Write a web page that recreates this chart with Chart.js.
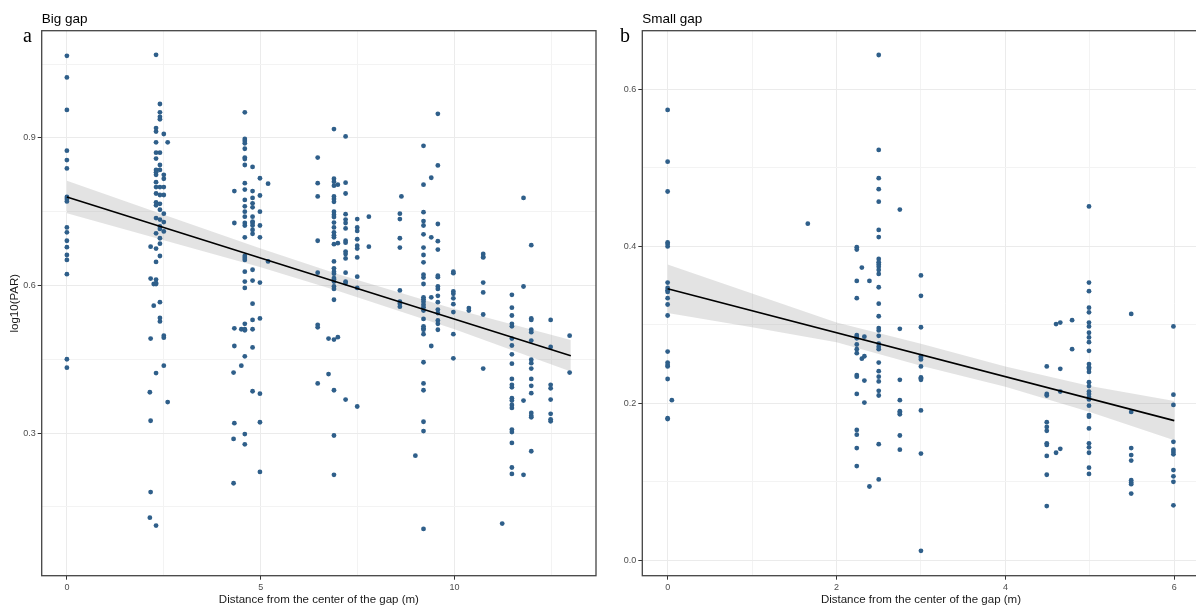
<!DOCTYPE html>
<html>
<head>
<meta charset="utf-8">
<script src="https://cdn.jsdelivr.net/npm/chart.js@4.4.1/dist/chart.umd.min.js"></script>
<style>
  html, body { margin: 0; padding: 0; background: #fff; overflow: hidden; }
  #wrap { position: relative; width: 1196px; height: 608px; overflow: hidden; }
  canvas { position: absolute; top: 0; }
  #bigGap { left: 0; }
  #smallGap { left: 600px; }
</style>
</head>
<body>
<div id="wrap">
  <canvas id="bigGap" width="600" height="608"></canvas>
  <canvas id="smallGap" width="605" height="608"></canvas>
</div>
<script>
// ---- panel a: big gap ----
// distance from the gap centre (m), and the log10(PAR) readings at each distance
const bigGapDist = [0, 2.14, 2.16, 2.24, 2.3, 2.4, 2.5, 2.6, 4.3, 4.32, 4.5, 4.59, 4.79, 4.98, 5.19,
  6.47, 6.75, 6.89, 6.99, 7.19, 7.49, 7.79, 8.59, 8.63, 8.99, 9.2, 9.4, 9.57, 9.97, 10.37, 10.74,
  11.23, 11.48, 11.78, 11.98, 12.48, 12.97];
const bigGapPar = [
  [1.067, 1.023, 0.957, 0.874, 0.855, 0.838, 0.780, 0.776, 0.771, 0.718, 0.708, 0.691, 0.678, 0.662, 0.652, 0.623, 0.450, 0.433],
  [0.383, 0.128],
  [0.679, 0.614, 0.492, 0.325, 0.180],
  [0.603, 0.559],
  [1.069, 0.920, 0.913, 0.891, 0.870, 0.858, 0.835, 0.830, 0.825, 0.810, 0.800, 0.787, 0.769, 0.763, 0.737, 0.706, 0.675, 0.648, 0.612, 0.605, 0.603, 0.422, 0.112],
  [0.969, 0.952, 0.943, 0.938, 0.870, 0.845, 0.835, 0.800, 0.784, 0.766, 0.754, 0.734, 0.720, 0.715, 0.696, 0.685, 0.660, 0.566, 0.534, 0.527],
  [0.908, 0.825, 0.817, 0.800, 0.784, 0.746, 0.729, 0.710, 0.498, 0.494, 0.437],
  [0.891, 0.363],
  [0.423, 0.288, 0.198],
  [0.792, 0.727, 0.513, 0.477, 0.320],
  [0.511, 0.437],
  [0.952, 0.898, 0.894, 0.889, 0.878, 0.860, 0.857, 0.845, 0.808, 0.795, 0.774, 0.761, 0.750, 0.740, 0.727, 0.722, 0.698, 0.660, 0.656, 0.652, 0.628, 0.608, 0.595, 0.522, 0.511, 0.509, 0.456, 0.298, 0.277],
  [0.841, 0.792, 0.778, 0.767, 0.759, 0.740, 0.730, 0.727, 0.722, 0.713, 0.705, 0.632, 0.610, 0.563, 0.530, 0.511, 0.474, 0.385],
  [0.818, 0.783, 0.750, 0.722, 0.698, 0.606, 0.533, 0.380, 0.322, 0.221],
  [0.807, 0.649],
  [0.860, 0.808, 0.781, 0.691, 0.626, 0.520, 0.515, 0.401],
  [0.492, 0.420],
  [0.918, 0.817, 0.811, 0.803, 0.781, 0.776, 0.770, 0.750, 0.744, 0.739, 0.728, 0.718, 0.708, 0.702, 0.698, 0.684, 0.649, 0.635, 0.628, 0.624, 0.615, 0.612, 0.608, 0.598, 0.593, 0.571, 0.490, 0.387, 0.295, 0.215],
  [0.805, 0.686, 0.495],
  [0.903, 0.809, 0.787, 0.745, 0.734, 0.727, 0.716, 0.691, 0.687, 0.669, 0.664, 0.655, 0.626, 0.608, 0.605, 0.368],
  [0.735, 0.718, 0.711, 0.694, 0.681, 0.675, 0.657, 0.618, 0.595, 0.354],
  [0.740, 0.679],
  [0.746, 0.735, 0.696, 0.677, 0.590, 0.567, 0.563, 0.557],
  [0.781],
  [0.254],
  [0.884, 0.805, 0.749, 0.731, 0.722, 0.704, 0.677, 0.662, 0.647, 0.622, 0.616, 0.603, 0.576, 0.572, 0.567, 0.561, 0.556, 0.549, 0.532, 0.517, 0.513, 0.510, 0.501, 0.444, 0.401, 0.387, 0.323, 0.304, 0.105],
  [0.819, 0.698, 0.576, 0.477],
  [0.949, 0.844, 0.725, 0.690, 0.673, 0.620, 0.617, 0.598, 0.593, 0.579, 0.566, 0.551, 0.544, 0.529, 0.522, 0.510],
  [0.628, 0.625, 0.588, 0.583, 0.574, 0.562, 0.546, 0.501, 0.452],
  [0.554, 0.549],
  [0.664, 0.658, 0.657, 0.606, 0.586, 0.541, 0.431],
  [0.116],
  [0.581, 0.555, 0.539, 0.522, 0.517, 0.492, 0.478, 0.460, 0.441, 0.410, 0.398, 0.393, 0.371, 0.366, 0.357, 0.351, 0.307, 0.302, 0.280, 0.230, 0.217],
  [0.778, 0.598, 0.366, 0.215],
  [0.682, 0.533, 0.530, 0.510, 0.505, 0.488, 0.449, 0.442, 0.431, 0.410, 0.396, 0.381, 0.341, 0.335, 0.332, 0.263],
  [0.530, 0.475, 0.398, 0.391, 0.368, 0.339, 0.328, 0.324],
  [0.498, 0.423]
];
// fitted line and its confidence band
const bigFitDist = [0, 13];
const bigFitPar = [0.780, 0.457];
const bigBandDist = [0, 2.5, 5, 7, 10, 13];
const bigBandLow = [0.747, 0.692, 0.637, 0.589, 0.511, 0.425];
const bigBandHigh = [0.813, 0.744, 0.675, 0.623, 0.552, 0.489];
const bigXTicks = [0, 5, 10];
const bigXLabels = ["0", "5", "10"];
const bigYTicks = [0.3, 0.6, 0.9];
const bigYLabels = ["0.3", "0.6", "0.9"];

// ---- panel b: small gap ----
const smallGapDist = [0, 0.05, 1.66, 2.24, 2.3, 2.33, 2.39, 2.5, 2.75, 3, 4.49, 4.6, 4.65, 4.79, 4.99, 5.49, 5.99];
const smallGapPar = [
  [0.574, 0.508, 0.470, 0.405, 0.403, 0.400, 0.354, 0.347, 0.344, 0.342, 0.334, 0.326, 0.312, 0.266, 0.252, 0.249, 0.247, 0.231, 0.181, 0.180],
  [0.204],
  [0.429],
  [0.399, 0.396, 0.356, 0.334, 0.287, 0.285, 0.283, 0.275, 0.269, 0.264, 0.236, 0.234, 0.212, 0.166, 0.160, 0.143, 0.120],
  [0.373, 0.257],
  [0.285, 0.260, 0.229, 0.201],
  [0.356, 0.094],
  [0.644, 0.523, 0.487, 0.473, 0.457, 0.421, 0.412, 0.384, 0.380, 0.377, 0.374, 0.370, 0.365, 0.348, 0.327, 0.311, 0.296, 0.293, 0.286, 0.276, 0.272, 0.269, 0.252, 0.241, 0.234, 0.228, 0.216, 0.210, 0.148, 0.103],
  [0.447, 0.295, 0.230, 0.204, 0.190, 0.188, 0.186, 0.159, 0.141],
  [0.363, 0.337, 0.297, 0.260, 0.258, 0.256, 0.247, 0.233, 0.232, 0.230, 0.191, 0.136, 0.012],
  [0.247, 0.212, 0.210, 0.176, 0.170, 0.165, 0.149, 0.147, 0.133, 0.109, 0.069],
  [0.301, 0.137],
  [0.303, 0.244, 0.215, 0.142],
  [0.306, 0.269],
  [0.451, 0.354, 0.343, 0.322, 0.316, 0.303, 0.298, 0.290, 0.284, 0.278, 0.267, 0.250, 0.246, 0.244, 0.240, 0.227, 0.222, 0.215, 0.212, 0.208, 0.205, 0.197, 0.185, 0.183, 0.168, 0.149, 0.144, 0.137, 0.118, 0.110],
  [0.314, 0.189, 0.143, 0.134, 0.127, 0.102, 0.099, 0.097, 0.085],
  [0.298, 0.211, 0.198, 0.151, 0.141, 0.138, 0.135, 0.115, 0.107, 0.100, 0.070]
];
const smallFitDist = [0, 6];
const smallFitPar = [0.346, 0.178];
const smallBandDist = [0, 1, 2, 3, 4, 5, 6];
const smallBandLow = [0.315, 0.297, 0.278, 0.248, 0.221, 0.189, 0.153];
const smallBandHigh = [0.377, 0.340, 0.303, 0.276, 0.247, 0.222, 0.203];
const smallXTicks = [0, 2, 4, 6];
const smallXLabels = ["0", "2", "4", "6"];
const smallYTicks = [0.0, 0.2, 0.4, 0.6];
const smallYLabels = ["0.0", "0.2", "0.4", "0.6"];

const FONT = '"Liberation Sans", Arial, sans-serif';

// frame, panel title and panel letter (ggplot theme_bw look)
const panelFrame = {
  id: "panelFrame",
  afterDraw(chart, args, opts) {
    const { ctx, chartArea: a } = chart;
    ctx.save();
    ctx.strokeStyle = "#444";
    ctx.lineWidth = 1.3;
    ctx.strokeRect(a.left, a.top, a.right - a.left, a.bottom - a.top);
    ctx.fillStyle = "#000";
    ctx.textBaseline = "alphabetic";
    ctx.textAlign = "left";
    ctx.font = "13.5px " + FONT;
    ctx.fillText(opts.title, a.left, 23);
    ctx.font = '20px "Liberation Serif", "Times New Roman", serif';
    ctx.fillText(opts.letter, opts.letterX, 41.5);
    ctx.restore();
  },
};

function findLabel(v, ticks, labels) {
  const i = ticks.findIndex((t) => Math.abs(t - v) < 1e-6);
  return i >= 0 ? labels[i] : "";
}

function axis(o) {
  const major = (ctx) => findLabel(ctx.tick.value, o.ticks, o.labels) !== "";
  return {
    type: "linear",
    min: o.min,
    max: o.max,
    afterFit: o.fit,
    border: { display: false },
    ticks: {
      stepSize: o.step,
      includeBounds: false,
      autoSkip: false,
      maxRotation: 0,
      padding: o.pad,
      color: "#4d4d4d",
      font: { size: 9, family: FONT },
      callback: (v) => findLabel(v, o.ticks, o.labels),
    },
    grid: {
      color: (ctx) => (major(ctx) ? "#ebebeb" : "#f3f3f3"),
      lineWidth: 1,
      tickLength: 4,
      tickWidth: 1,
      tickColor: (ctx) => (major(ctx) ? "#333" : "rgba(0,0,0,0)"),
    },
    title: o.title
      ? { display: true, text: o.title, color: "#1a1a1a", font: { size: 11.5, family: FONT }, padding: o.titlePad }
      : { display: false },
  };
}

function makePanel(id, p) {
  const points = [];
  p.dist.forEach((d, i) => p.par[i].forEach((v) => points.push({ x: d, y: v })));
  const xy = (xs, ys) => xs.map((x, i) => ({ x: x, y: ys[i] }));

  new Chart(document.getElementById(id), {
    type: "scatter",
    data: {
      datasets: [
        {
          type: "line", showLine: true, data: xy(p.bandDist, p.bandHigh),
          borderWidth: 0, borderColor: "rgba(0,0,0,0)", pointRadius: 0,
          fill: "+1", backgroundColor: "rgba(153,153,153,0.27)", order: 3,
        },
        {
          type: "line", showLine: true, data: xy(p.bandDist, p.bandLow),
          borderWidth: 0, borderColor: "rgba(0,0,0,0)", pointRadius: 0, fill: false, order: 3,
        },
        {
          data: points, pointRadius: 2.4, pointBackgroundColor: "#2f5f8a",
          backgroundColor: "#2f5f8a", borderWidth: 0, pointBorderWidth: 0, order: 2,
        },
        {
          type: "line", showLine: true, data: xy(p.fitDist, p.fitPar),
          borderColor: "#000", borderWidth: 1.6, pointRadius: 0, fill: false, order: 0,
        },
      ],
    },
    options: {
      responsive: false,
      animation: false,
      events: [],
      layout: { padding: { left: 0, top: 30.7, right: p.padRight, bottom: 0 } },
      scales: {
        x: axis({
          min: p.xMin, max: p.xMax, step: p.xStep, ticks: p.xTicks, labels: p.xLabels, pad: 2,
          fit: (s) => { s.height = 32.3; },
          title: "Distance from the center of the gap (m)", titlePad: { top: 0, bottom: 1 },
        }),
        y: axis({
          min: p.yMin, max: p.yMax, step: p.yStep, ticks: p.yTicks, labels: p.yLabels, pad: 2,
          fit: (s) => { s.width = p.yWidth; },
          title: p.yTitle, titlePad: { top: 8, bottom: 0 },
        }),
      },
      plugins: {
        legend: { display: false },
        tooltip: { enabled: false },
        panelFrame: { title: p.title, letter: p.letter, letterX: p.letterX },
      },
    },
    plugins: [panelFrame],
  });
}

makePanel("bigGap", {
  dist: bigGapDist, par: bigGapPar,
  fitDist: bigFitDist, fitPar: bigFitPar,
  bandDist: bigBandDist, bandLow: bigBandLow, bandHigh: bigBandHigh,
  xMin: -0.65, xMax: 13.65, xStep: 2.5, xTicks: bigXTicks, xLabels: bigXLabels,
  yMin: 0.01, yMax: 1.118, yStep: 0.15, yTicks: bigYTicks, yLabels: bigYLabels,
  yWidth: 41.7, padRight: 1, yTitle: "log10(PAR)",
  title: "Big gap", letter: "a", letterX: 23,
});

makePanel("smallGap", {
  dist: smallGapDist, par: smallGapPar,
  fitDist: smallFitDist, fitPar: smallFitPar,
  bandDist: smallBandDist, bandLow: smallBandLow, bandHigh: smallBandHigh,
  xMin: -0.3, xMax: 6.3, xStep: 1, xTicks: smallXTicks, xLabels: smallXLabels,
  yMin: -0.0197, yMax: 0.675, yStep: 0.1, yTicks: smallYTicks, yLabels: smallYLabels,
  yWidth: 42.3, padRight: 5.4, yTitle: null,
  title: "Small gap", letter: "b", letterX: 20,
});
</script>
</body>
</html>
